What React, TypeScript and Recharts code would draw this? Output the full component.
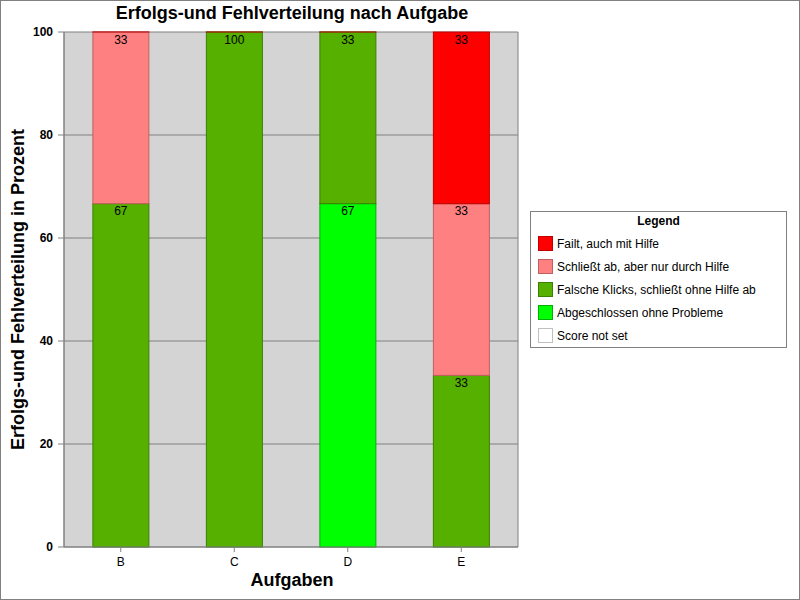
import React from 'react';
import { BarChart, Bar, XAxis, YAxis, CartesianGrid, LabelList } from 'recharts';

const tasks = ['B', 'C', 'D', 'E'];
const failt = [0, 0, 0, 33.33];
const schliesst = [33.33, 0, 0, 33.33];
const falsche = [66.67, 100, 33.33, 33.33];
const abgeschlossen = [0, 0, 66.67, 0];
const notSet = [0, 0, 0, 0];
const yTicks = [0, 20, 40, 60, 80, 100];

const series = [
  { key: 'notSet', name: 'Score not set', fill: '#ffffff', stroke: '#c0c0c0', values: notSet },
  { key: 'abgeschlossen', name: 'Abgeschlossen ohne Probleme', fill: '#00ff00', stroke: '#00b000', values: abgeschlossen },
  { key: 'falsche', name: 'Falsche Klicks, schließt ohne Hilfe ab', fill: '#56b000', stroke: '#3c8000', values: falsche },
  { key: 'schliesst', name: 'Schließt ab, aber nur durch Hilfe', fill: '#ff8080', stroke: '#c06060', values: schliesst },
  { key: 'failt', name: 'Failt, auch mit Hilfe', fill: '#ff0000', stroke: '#c00000', values: failt },
];

const data = tasks.map((t, i) => {
  const row: Record<string, string | number> = { task: t };
  series.forEach((s) => (row[s.key] = s.values[i]));
  return row;
});

const font = '"Liberation Sans", Arial, sans-serif';

const BarShape = (props: any) => {
  const { x, y, width, height, fill, stroke } = props;
  if (!height || height <= 0) {
    if (props.seriesKey !== 'failt') return null;
    return <line x1={x} x2={x + width} y1={y} y2={y} stroke={stroke} strokeWidth={1} />;
  }
  return <rect x={x + 0.5} y={y} width={width - 1} height={height} fill={fill} stroke={stroke} strokeWidth={1} />;
};

const LegendBox = () => (
  <div
    style={{
      position: 'absolute',
      left: 529,
      top: 210,
      width: 255,
      height: 135,
      border: '1px solid #808080',
      background: '#fff',
      fontFamily: font,
      fontSize: 12,
    }}
  >
    <div style={{ textAlign: 'center', fontWeight: 'bold', marginTop: 2, height: 18 }}>Legend</div>
    {[...series].reverse().map((s) => (
      <div key={s.key} style={{ display: 'flex', alignItems: 'center', height: 23, paddingLeft: 7 }}>
        <span
          style={{
            display: 'inline-block',
            width: 13,
            height: 13,
            background: s.fill,
            border: `1px solid ${s.stroke}`,
            marginRight: 4,
          }}
        />
        <span>{s.name}</span>
      </div>
    ))}
  </div>
);

export default function App() {
  return (
    <div
      style={{
        position: 'absolute',
        left: 0,
        top: 0,
        width: 800,
        height: 600,
        boxSizing: 'border-box',
        border: '1px solid #808080',
        background: '#fff',
        fontFamily: font,
      }}
    >
      <div
        style={{
          position: 'absolute',
          left: 64,
          width: 454,
          top: 2,
          textAlign: 'center',
          fontWeight: 'bold',
          fontSize: 18,
        }}
      >
        Erfolgs-und Fehlverteilung nach Aufgabe
      </div>
      <div
        style={{
          position: 'absolute',
          left: 64,
          width: 454,
          top: 569,
          textAlign: 'center',
          fontWeight: 'bold',
          fontSize: 18,
        }}
      >
        Aufgaben
      </div>
      <div
        style={{
          position: 'absolute',
          left: 17 - 200,
          top: 289 - 11,
          width: 400,
          textAlign: 'center',
          fontWeight: 'bold',
          fontSize: 18,
          transform: 'rotate(-90deg)',
        }}
      >
        Erfolgs-und Fehlverteilung in Prozent
      </div>
      <div style={{ position: 'absolute', left: -1, top: -1 }}>
        <BarChart
          width={800}
          height={600}
          data={data}
          margin={{ top: 32, right: 282, bottom: 23, left: 0 }}
          barCategoryGap="25%"
        >
          <CartesianGrid
            fill="#d4d4d4"
            stroke="#808080"
            verticalCoordinatesGenerator={({ offset }: any) => [offset.left, offset.left + offset.width]}
          />
          <XAxis
            dataKey="task"
            height={30}
            stroke="#808080"
            tickLine={{ stroke: '#808080' }}
            tickSize={5}
            tickMargin={5}
            tick={{ fill: '#000', fontSize: 12, fontFamily: font }}
          />
          <YAxis
            width={64}
            domain={[0, 100]}
            ticks={yTicks}
            stroke="#808080"
            tickSize={6}
            tickMargin={5}
            tick={{ fill: '#000', fontSize: 12, fontWeight: 'bold', fontFamily: font }}
          />
          {series.map((s) => (
            <Bar
              key={s.key}
              dataKey={s.key}
              name={s.name}
              stackId="a"
              fill={s.fill}
              stroke={s.stroke}
              isAnimationActive={false}
              shape={(p: any) => <BarShape {...p} seriesKey={s.key} fill={s.fill} stroke={s.stroke} />}
            >
              <LabelList
                dataKey={s.key}
                position="insideTop"
                offset={3}
                fill="#000"
                fontSize={12}
                fontFamily={font}
                formatter={(v: any) => (v > 0 ? Math.round(v) : '')}
              />
            </Bar>
          ))}
        </BarChart>
      </div>
      <LegendBox />
    </div>
  );
}
